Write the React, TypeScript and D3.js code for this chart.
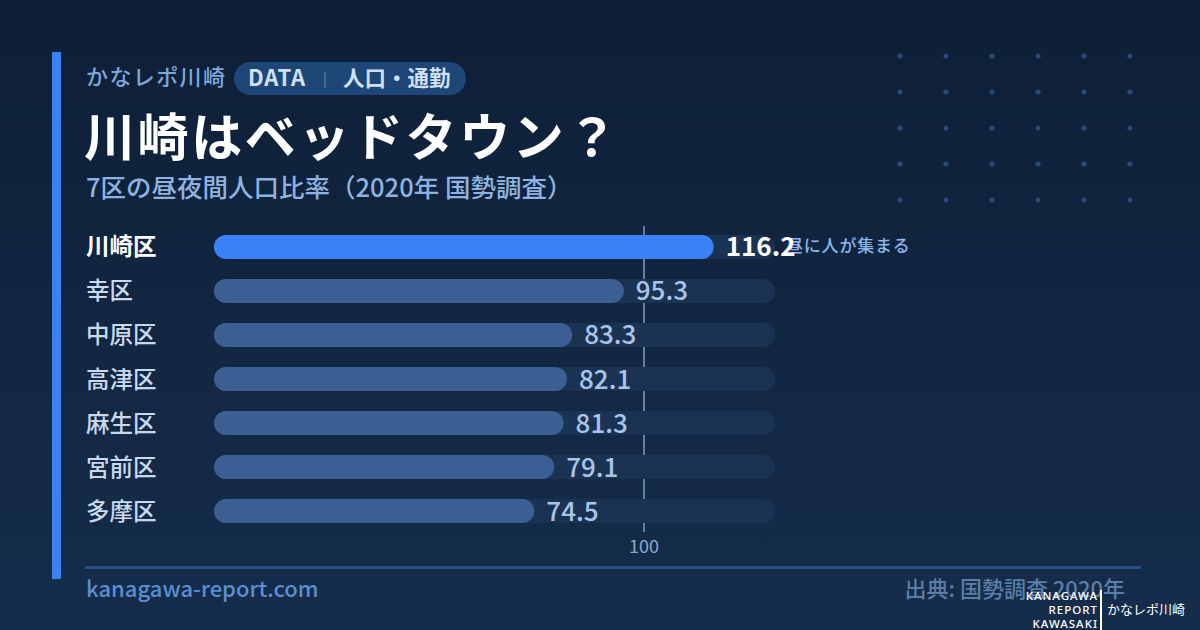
import React from 'react';
import * as d3 from 'd3';

// 昼夜間人口比率（2020年 国勢調査）
const wards = ['川崎区', '幸区', '中原区', '高津区', '麻生区', '宮前区', '多摩区'];
const ratios = [116.2, 95.3, 83.3, 82.1, 81.3, 79.1, 74.5];
const refTicks = [100];
const highlightWard = '川崎区';
const highlightNote = '昼に人が集まる';

const W = 1200;
const H = 630;
const FONT = '"Noto Sans CJK JP", "Noto Sans", sans-serif';

const App: React.FC = () => {
  const x = d3.scaleLinear().domain([0, 130]).range([214, 773]);
  const y = d3.scaleBand<string>().domain(wards).range([225, 533]).paddingInner(0.455).paddingOuter(0.227);
  const bh = y.bandwidth();

  const dotsX = d3.range(6).map((i) => 900 + i * 46);
  const dotsY = d3.range(5).map((i) => 56 + i * 36);

  return (
    <svg width={W} height={H} style={{ display: 'block', position: 'absolute', left: 0, top: 0 }} fontFamily={FONT}>
      <defs>
        <linearGradient id="bg" x1="0" y1="0" x2="0" y2="1">
          <stop offset="0" stopColor="#0e1f37" />
          <stop offset="1" stopColor="#152d4b" />
        </linearGradient>
      </defs>
      <rect width={W} height={H} fill="url(#bg)" />

      {/* decorative dot grid */}
      {dotsY.map((dy) =>
        dotsX.map((dx) => <circle key={`${dx}-${dy}`} cx={dx} cy={dy} r={2.6} fill="#284b7a" />)
      )}

      {/* accent stripe */}
      <rect x={52} y={52} width={9} height={527} fill="#3b82f6" />

      {/* header */}
      <text x={86} y={85} fontSize={22} fontWeight={500} letterSpacing={1.4} fill="#7da7d8">かなレポ川崎</text>
      <rect x={234} y={62} width={232} height={33} rx={16.5} fill="#1e4677" />
      <text x={248} y={86} fontSize={22} fontWeight={700} letterSpacing={0.8} fill="#cfe0f5">DATA</text>
      <line x1={325} y1={72} x2={325} y2={88} stroke="#4f75a6" strokeWidth={1.5} />
      <text x={343} y={86} fontSize={21.5} fontWeight={700} fill="#cfe0f5">人口・通勤</text>

      <text x={84} y={156} fontSize={51} fontWeight={700} letterSpacing={2.6} fill="#ffffff">川崎はベッドタウン？</text>
      <text x={86} y={197} fontSize={25.5} fontWeight={500} fill="#8fb3e0">7区の昼夜間人口比率（2020年 国勢調査）</text>

      {/* tracks */}
      {wards.map((w) => (
        <rect key={`t-${w}`} x={x(0)} y={y(w)} width={x(130) - x(0) + 2} height={bh} rx={bh / 2} fill="#1b3353" />
      ))}

      {/* 100 reference line, hidden behind the tracks */}
      {refTicks.map((t) => (
        <g key={`r-${t}`}>
          <line x1={x(t)} x2={x(t)} y1={226} y2={532} stroke="#7f9cc2" strokeWidth={1.5} />
          <text x={x(t)} y={553} textAnchor="middle" fontSize={18} fill="#8fa9cc">{t}</text>
        </g>
      ))}
      {wards.map((w) => (
        <rect key={`t2-${w}`} x={x(0)} y={y(w)} width={x(130) - x(0) + 2} height={bh} rx={bh / 2} fill="#1b3353" />
      ))}

      {wards.map((w, i) => {
        const hi = w === highlightWard;
        const cy = (y(w) as number) + bh / 2;
        return (
          <g key={w}>
            <text x={86} y={cy + 8.5} fontSize={23.5} fontWeight={hi ? 700 : 500} fill={hi ? '#ffffff' : '#c9d9ee'}>{w}</text>
            <rect x={x(0)} y={y(w)} width={x(ratios[i]) - x(0)} height={bh} rx={bh / 2} fill={hi ? '#3b82f6' : '#3b5f93'} />
            {hi && (
              <text x={786} y={cy + 5.5} fontSize={17} fontWeight={500} letterSpacing={0.8} fill="#8cb6ee">{highlightNote}</text>
            )}
            <text x={x(ratios[i]) + 12} y={cy + 9.5} fontSize={26} fontWeight={hi ? 700 : 500} fill={hi ? '#ffffff' : '#aac4e8'}>
              {ratios[i].toFixed(1)}
            </text>
          </g>
        );
      })}

      {/* footer */}
      <rect x={85} y={566} width={1056} height={3} fill="#264f86" />
      <text x={86} y={597} fontSize={22} fontWeight={500} fill="#5a8fd2">kanagawa-report.com</text>
      <text x={1125} y={597} textAnchor="end" fontSize={22} fontWeight={500} fill="#5b7ea8">出典: 国勢調査 2020年</text>

      {/* watermark */}
      <g fill="#ffffff" fontSize={11.5} fontWeight={500} letterSpacing={1} fontFamily='"Noto Sans", sans-serif'>
        <text x={1098} y={600} textAnchor="end">KANAGAWA</text>
        <text x={1098} y={614} textAnchor="end">REPORT</text>
        <text x={1098} y={628} textAnchor="end">KAWASAKI</text>
      </g>
      <rect x={1100} y={590} width={2} height={40} fill="#ffffff" />
      <text x={1107} y={614} fontSize={13} fill="#ffffff" fontFamily={FONT}>かなレポ川崎</text>
    </svg>
  );
};

export default App;
